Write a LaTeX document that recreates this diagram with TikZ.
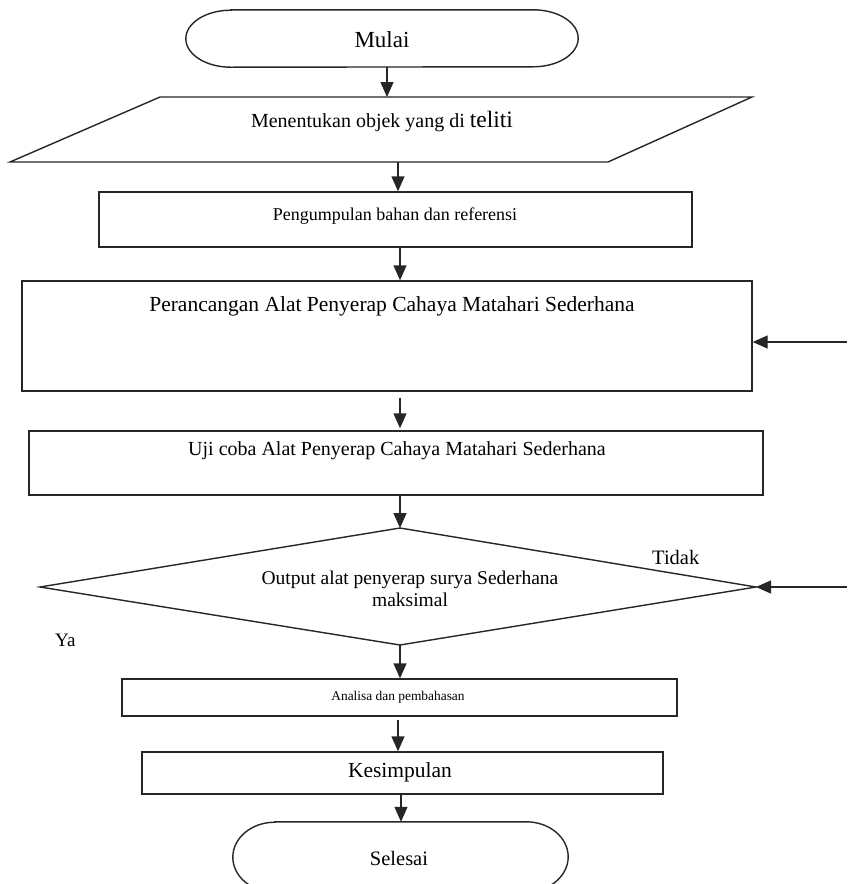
\documentclass[tikz,border=0pt]{standalone}
\usepackage{fontspec}
\setmainfont{Liberation Serif}
\usetikzlibrary{arrows.meta}
\newcommand{\fsz}[1]{\fontsize{#1}{#1}\selectfont}
\begin{document}
\begin{tikzpicture}[x=1pt,y=1pt,
  ln/.style={line width=1.4pt,draw=black!85},
  arr/.style={line width=1.4pt,draw=black!85,-{Triangle[length=15pt,width=13pt]}},
  box/.style={draw=black!85,line width=1.4pt,inner sep=0pt},
  ghost/.style={inner sep=0pt},
  txt/.style={inner sep=0pt,align=center}]
\useasboundingbox (0,0) rectangle (847,-884);
\clip (0,0) rectangle (847,-884);
\fill[white] (0,0) rectangle (847,-884);

% Mulai
\node[ghost,minimum width=392pt,minimum height=57pt] (mulai) at (382,-38.5) {};
\draw[ln] ([xshift=45pt]mulai.north west) -- ([xshift=-45pt]mulai.north east)
  arc[start angle=90,end angle=-90,x radius=45pt,y radius=28.5pt]
  -- ([xshift=45pt]mulai.south west)
  arc[start angle=270,end angle=90,x radius=45pt,y radius=28.5pt] -- cycle;
\node[txt,font=\fsz{23}] (mulaiT) at (382,-40) {Mulai};

% parallelogram
\coordinate (pA) at (160,-97);
\coordinate (pB) at (752,-97);
\coordinate (pC) at (608,-162);
\coordinate (pD) at (10,-162);
\draw[ln] (pA) -- (pB) -- (pC) -- (pD) -- cycle;
\node[txt,font=\fsz{20}] (objT) at (382,-122) {Menentukan objek yang di {\fsz{23.5}teliti}};
\coordinate (pTop) at (387,-97);
\coordinate (pBot) at (398,-162);

% Pengumpulan
\node[box,minimum width=593pt,minimum height=55pt] (kumpul) at (395.5,-219.5) {};
\node[txt,font=\fsz{18}] (kumpulT) at (395,-216) {Pengumpulan bahan dan referensi};

% Perancangan
\node[box,minimum width=730pt,minimum height=110pt] (rancang) at (387,-336) {};
\node[txt,font=\fsz{21.5}] (rancangT) at (392,-306) {Perancangan Alat Penyerap Cahaya Matahari Sederhana};
\coordinate (r1) at (847,-342);

% Uji coba
\node[box,minimum width=734pt,minimum height=64pt] (uji) at (396,-463) {};
\node[txt,font=\fsz{20}] (ujiT) at (397,-451) {Uji coba Alat Penyerap Cahaya Matahari Sederhana};

% decision
\coordinate (dT) at (400,-528);
\coordinate (dR) at (756,-587);
\coordinate (dB) at (400,-645);
\coordinate (dL) at (40,-587);
\draw[ln] (dT) -- (dR) -- (dB) -- (dL) -- cycle;
\node[txt,font=\fsz{19.5}] (decT) at (410,-589) {Output alat penyerap surya Sederhana\\[2pt]maksimal};
\coordinate (r2) at (847,-587);
\node[txt,font=\fsz{20.5},anchor=west] (tidak) at (652,-557) {Tidak};
\node[txt,font=\fsz{19},anchor=west] (ya) at (55,-640) {Ya};

% Analisa
\node[box,minimum width=555pt,minimum height=37pt] (analisa) at (399.5,-697.5) {};
\node[txt,font=\fsz{13.4}] (analisaT) at (398,-697) {Analisa dan pembahasan};

% Kesimpulan
\node[box,minimum width=521pt,minimum height=42pt] (kesimpulan) at (402.5,-773) {};
\node[txt,font=\fsz{21.5}] (kesimpulanT) at (400,-772) {Kesimpulan};

% Selesai
\node[ghost,minimum width=335pt,minimum height=70pt] (selesai) at (400.5,-857) {};
\draw[ln] ([xshift=42pt]selesai.north west) -- ([xshift=-42pt]selesai.north east)
  arc[start angle=90,end angle=-90,x radius=42pt,y radius=35pt]
  -- ([xshift=42pt]selesai.south west)
  arc[start angle=270,end angle=90,x radius=42pt,y radius=35pt] -- cycle;
\node[txt,font=\fsz{20.5}] (selesaiT) at (399,-858) {Selesai};

% connectors
\draw[arr] (mulai.south -| pTop) -- (pTop);
\draw[arr] (pBot) -- (pBot |- kumpul.north);
\draw[arr] ([xshift=4.5pt]kumpul.south) -- ([xshift=4.5pt]kumpul.south |- rancang.north);
\draw[arr] (r1) -- (r1 -| rancang.east);
\draw[arr,shorten <=6pt,shorten >=2pt] ([xshift=13pt]rancang.south) -- ([xshift=13pt]rancang.south |- uji.north);
\draw[arr] (uji.south -| dT) -- (dT);
\draw[arr] (r2) -- (dR);
\draw[arr] (dB) -- (dB |- analisa.north);
\draw[arr,shorten <=3pt] (analisa.south -| 398,0) -- (kesimpulan.north -| 398,0);
\draw[arr] (kesimpulan.south -| 401,0) -- (selesai.north -| 401,0);
\end{tikzpicture}
\end{document}
